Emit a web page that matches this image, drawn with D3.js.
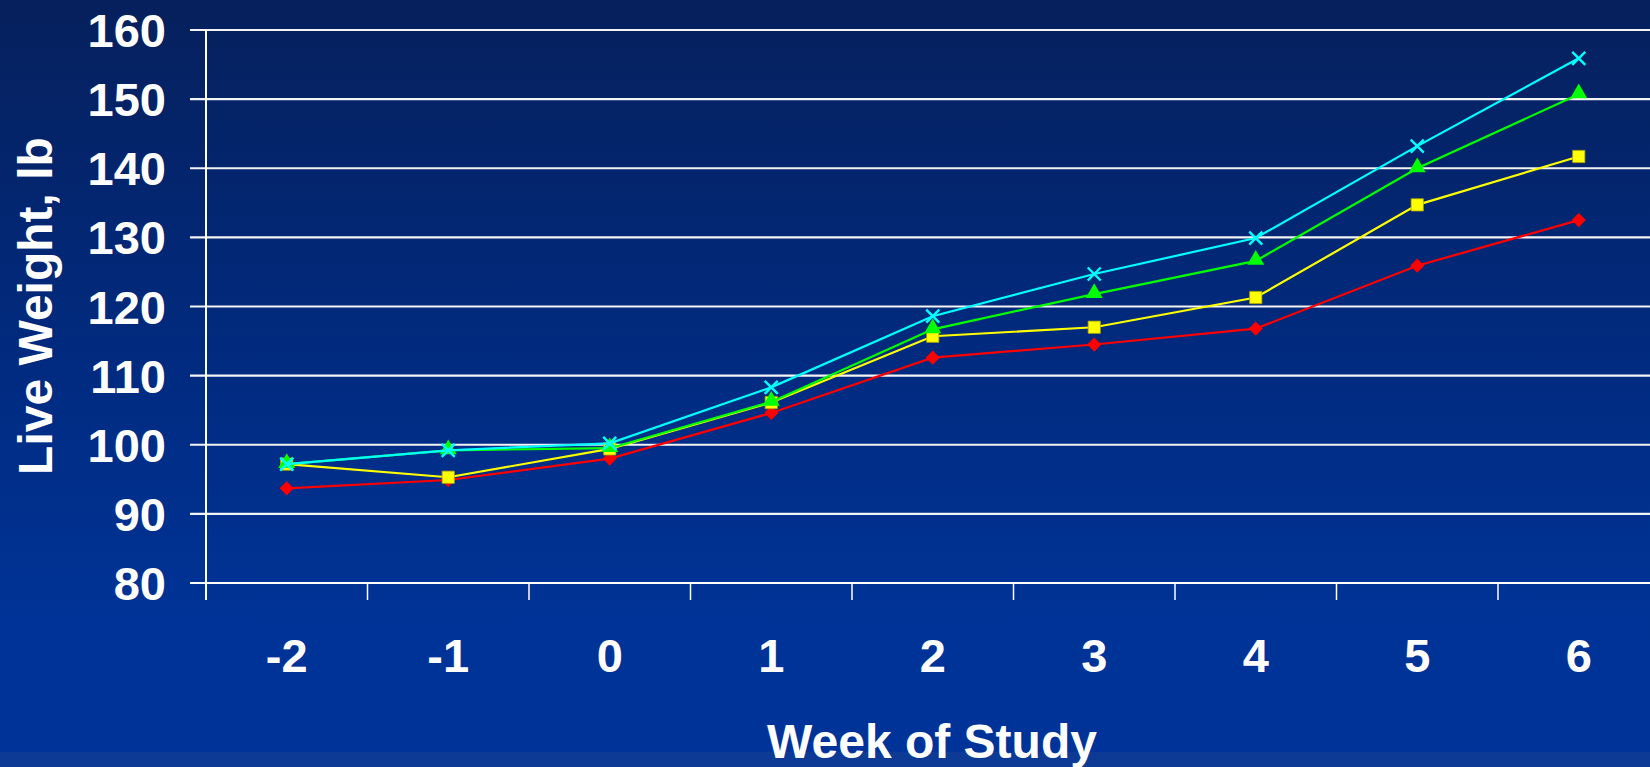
<!DOCTYPE html>
<html>
<head>
<meta charset="utf-8">
<script src="https://cdn.jsdelivr.net/npm/d3@7"></script>
<style>
  html, body { margin: 0; padding: 0; background: #00318f; }
  svg { display: block; }
  text { font-family: "Liberation Sans", Arial, sans-serif; font-weight: bold; fill: #ffffff; }
</style>
</head>
<body>
<script>
// Weekly live weight by treatment group
const weeks = ["-2", "-1", "0", "1", "2", "3", "4", "5", "6"];
const redSeries    = [93.7, 94.9, 98.0, 104.6, 112.6, 114.5, 116.8, 125.9, 132.5];
const yellowSeries = [97.2, 95.3, 99.4, 106.1, 115.7, 117.0, 121.3, 134.7, 141.7];
const greenSeries  = [97.2, 99.2, 99.5, 106.2, 116.7, 121.8, 126.6, 140.0, 150.7];
const cyanSeries   = [97.2, 99.2, 100.2, 108.3, 118.6, 124.7, 129.9, 143.2, 155.9];
const yTicks = [80, 90, 100, 110, 120, 130, 140, 150, 160];

const series = [
  { name: "red",    values: redSeries,    color: "#ff0000", marker: "diamond" },
  { name: "yellow", values: yellowSeries, color: "#ffff00", marker: "square" },
  { name: "green",  values: greenSeries,  color: "#00ff00", marker: "triangle" },
  { name: "cyan",   values: cyanSeries,   color: "#00ffff", marker: "cross" }
];

const W = 1650, H = 767;
const svg = d3.select("body").append("svg").attr("width", W).attr("height", H);

// background gradient
const defs = svg.append("defs");
const grad = defs.append("linearGradient").attr("id", "bg").attr("x1", 0).attr("y1", 0).attr("x2", 0).attr("y2", 1);
grad.append("stop").attr("offset", "0%").attr("stop-color", "#06205c");
grad.append("stop").attr("offset", "45%").attr("stop-color", "#012a7e");
grad.append("stop").attr("offset", "80%").attr("stop-color", "#003396");
grad.append("stop").attr("offset", "100%").attr("stop-color", "#003399");
svg.append("rect").attr("width", W).attr("height", H).attr("fill", "url(#bg)");
svg.append("rect").attr("x", 0).attr("y", 752).attr("width", W).attr("height", H - 752).attr("fill", "#0c3a94");

const plotLeft = 206, plotTop = 30, plotBottom = 583;
const bandW = 161.5;
const x = d3.scaleBand().domain(weeks).range([plotLeft, plotLeft + bandW * weeks.length]).padding(0);
const y = d3.scaleLinear().domain([80, 160]).range([plotBottom, plotTop]);
const cx = d => x(d) + x.bandwidth() / 2;

// horizontal grid lines with left tick stubs
const grid = svg.append("g");
grid.selectAll("line").data(yTicks).join("line")
  .attr("x1", 190).attr("x2", W)
  .attr("y1", d => y(d)).attr("y2", d => y(d))
  .attr("stroke", "#f4f4f4").attr("stroke-width", 2.2);

// y axis line
svg.append("line").attr("x1", plotLeft).attr("x2", plotLeft)
  .attr("y1", plotTop).attr("y2", plotBottom + 17)
  .attr("stroke", "#ffffff").attr("stroke-width", 2);

// x axis with ticks between categories
const xAxis = svg.append("g").attr("transform", `translate(0,${plotBottom})`)
  .call(d3.axisBottom(x).tickSize(0).tickFormat(""));
xAxis.select(".domain").remove();
xAxis.append("line").attr("x1", 190).attr("x2", W).attr("y1", 0).attr("y2", 0)
  .attr("stroke", "#ffffff").attr("stroke-width", 2.2);
xAxis.selectAll(".sep").data(weeks).join("line").attr("class", "sep")
  .attr("x1", d => x(d)).attr("x2", d => x(d))
  .attr("y1", 0).attr("y2", 17)
  .attr("stroke", "#ffffff").attr("stroke-width", 1.5);

// y tick labels
svg.append("g").selectAll("text").data(yTicks).join("text")
  .attr("x", 166).attr("y", d => y(d) + 17)
  .attr("text-anchor", "end")
  .style("font-size", "47px")
  .text(d => d);

// x tick labels
svg.append("g").selectAll("text").data(weeks).join("text")
  .attr("x", d => cx(d)).attr("y", 672)
  .attr("text-anchor", "middle")
  .style("font-size", "47px")
  .text(d => d);

// axis titles
svg.append("text").attr("x", 932).attr("y", 758)
  .attr("text-anchor", "middle").style("font-size", "48px")
  .text("Week of Study");
svg.append("text")
  .attr("transform", "translate(52,306) rotate(-90)")
  .attr("text-anchor", "middle").style("font-size", "48px")
  .text("Live Weight, lb");

// series lines and markers
const line = d3.line().x((v, i) => cx(weeks[i])).y(v => y(v));
const symbolFor = {
  diamond: d3.symbol().type(d3.symbolDiamond2).size(130),
  square: d3.symbol().type(d3.symbolSquare).size(150),
  triangle: d3.symbol().type(d3.symbolTriangle).size(125)
};

series.forEach(s => {
  const g = svg.append("g");
  g.append("path").attr("d", line(s.values))
    .attr("fill", "none").attr("stroke", s.color).attr("stroke-width", 2.2);
  const pts = g.selectAll("g.pt").data(s.values).join("g").attr("class", "pt")
    .attr("transform", (v, i) => `translate(${cx(weeks[i])},${y(v)})`);
  if (s.marker === "cross") {
    pts.append("path").attr("d", "M-6.5,-6.5L6.5,6.5M-6.5,6.5L6.5,-6.5")
      .attr("stroke", s.color).attr("stroke-width", 2.4).attr("fill", "none");
  } else {
    pts.append("path")
      .attr("d", symbolFor[s.marker]())
      .attr("transform", s.marker === "triangle" ? "translate(0,-1)" : null)
      .attr("fill", s.color)
      .attr("stroke", s.marker === "square" ? "#b3a300" : "none")
      .attr("stroke-width", 0.8);
  }
});
</script>
</body>
</html>
